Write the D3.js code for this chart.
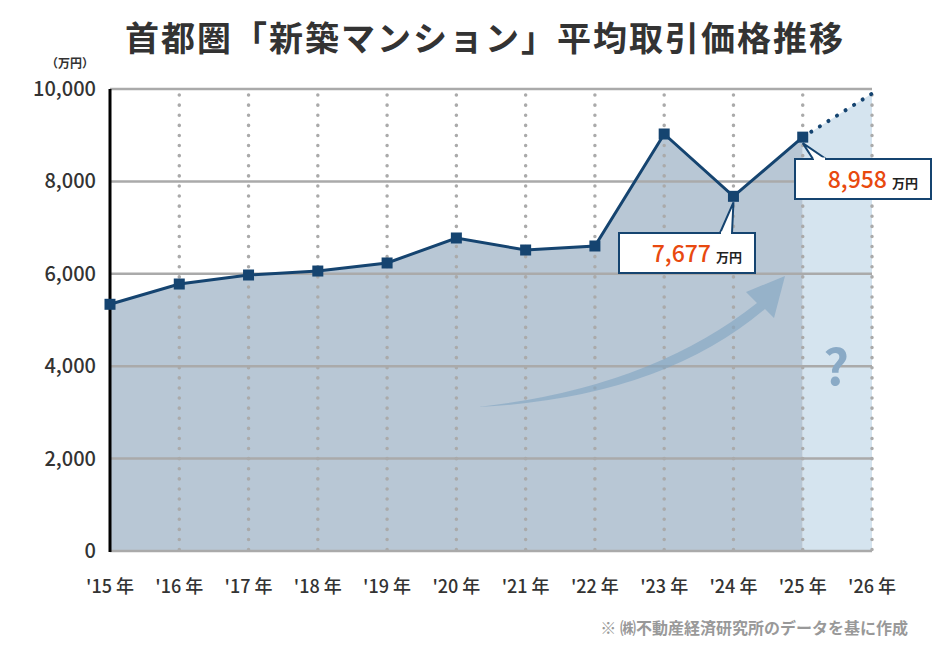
<!DOCTYPE html><html><head><meta charset="utf-8"><script src="https://d3js.org/d3.v7.min.js"></script>
<style>body{margin:0;background:#fff}text{font-family:"Noto Sans CJK JP","Noto Sans",sans-serif}</style></head><body>
<svg id="c" width="939" height="660"></svg>
<script>
const years=['\'15 年','\'16 年','\'17 年','\'18 年','\'19 年','\'20 年','\'21 年','\'22 年','\'23 年','\'24 年','\'25 年','\'26 年'];
const prices=[5340,5779,5974,6060,6234,6775,6515,6602,9026,7677,8958];
const forecast=[8958,9900];
const yTicks=[0,2000,4000,6000,8000,10000];
const svg=d3.select('#c');
const x=d3.scalePoint().domain(d3.range(12)).range([110,872]);
const y=d3.scaleLinear().domain([0,10000]).range([551,89]);
svg.append('text').attr('x',485).attr('y',51).attr('text-anchor','middle').attr('font-size',34).attr('font-weight',700).attr('fill','#333').attr('letter-spacing',2).text('首都圏「新築マンション」平均取引価格推移');
svg.append('text').attr('x',70).attr('y',68).attr('text-anchor','middle').attr('font-size',12).attr('font-weight',700).attr('fill','#333').text('（万円）');
svg.append('path').datum(prices).attr('fill','#b8c7d5').attr('d',d3.area().x((d,i)=>x(i)).y0(y(0)).y1(d=>y(d)));
svg.append('path').datum(forecast).attr('fill','#d5e4ef').attr('d',d3.area().x((d,i)=>x(i+10)).y0(y(0)).y1(d=>y(d)));
yTicks.forEach(t=>{svg.append('line').attr('x1',110).attr('x2',872).attr('y1',y(t)).attr('y2',y(t)).attr('stroke','#aaa').attr('stroke-width',2.5);
svg.append('text').attr('x',96).attr('y',y(t)+7).attr('text-anchor','end').attr('font-size',20).attr('font-weight',500).attr('fill','#333').text(d3.format(',')(t));});
d3.range(1,12).forEach(i=>svg.append('line').attr('x1',x(i)).attr('x2',x(i)).attr('y1',y(10000)+6).attr('y2',y(0)).attr('stroke','#aaa').attr('stroke-width',3.5).attr('stroke-linecap','round').attr('stroke-dasharray','0.1 10'));
svg.append('line').attr('x1',110).attr('x2',110).attr('y1',y(10000)).attr('y2',y(0)+1).attr('stroke','#000').attr('stroke-width',3);
years.forEach((t,i)=>svg.append('text').attr('x',x(i)).attr('y',593).attr('text-anchor','middle').attr('font-size',18).attr('font-weight',500).attr('fill','#333').text(t));
svg.append('path').attr('d','M478,407 Q650,388 757,303 L746,292 L785,276 L774,318 L765,309 Q660,398 478,407 Z').attr('fill','#7fa3c2').attr('opacity',0.6);
svg.append('text').attr('x',836).attr('y',385).attr('text-anchor','middle').attr('font-size',50).attr('font-weight',700).attr('fill','#8aaac6').text('?');
svg.append('path').datum(forecast).attr('fill','none').attr('stroke','#154470').attr('stroke-width',4).attr('stroke-linecap','round').attr('stroke-dasharray','0.1 10').attr('d',d3.line().x((d,i)=>x(i+10)).y(d=>y(d)));
svg.append('path').datum(prices).attr('fill','none').attr('stroke','#154470').attr('stroke-width',3).attr('d',d3.line().x((d,i)=>x(i)).y(d=>y(d)));
svg.selectAll('rect.m').data(prices).join('rect').attr('x',(d,i)=>x(i)-5.5).attr('y',d=>y(d)-5.5).attr('width',11).attr('height',11).attr('fill','#154470');
function callout(i,v,bx,by,tip){
 const px=x(i),py=y(v)+6;
 svg.append('path').attr('d',`M${bx},${by} H${bx+136} V${by+40} H${bx} Z`).attr('fill','#fff').attr('stroke','#154470').attr('stroke-width',2);
 svg.append('path').attr('d',`M${tip[0]},${by} L${px},${py} L${tip[1]},${by}`).attr('fill','#fff').attr('stroke','#154470').attr('stroke-width',2);
 svg.append('line').attr('x1',tip[0]+1).attr('x2',tip[1]-1).attr('y1',by).attr('y2',by).attr('stroke','#fff').attr('stroke-width',3);
 const t=svg.append('text').attr('x',bx+123).attr('y',by+29).attr('text-anchor','end').attr('fill','#222');
 t.append('tspan').attr('font-size',23).attr('font-weight',500).attr('fill','#e8490f').text(d3.format(',')(v));
 t.append('tspan').attr('font-size',13).attr('dx',5).attr('font-weight',700).text('万円');
}
callout(10,8958,795,159,[813,826]);
callout(9,7677,619,233,[720,732]);
svg.append('text').attr('x',908).attr('y',634).attr('text-anchor','end').attr('font-size',16).attr('font-weight',700).attr('fill','#999').text('※ ㈱不動産経済研究所のデータを基に作成');
</script></body></html>
